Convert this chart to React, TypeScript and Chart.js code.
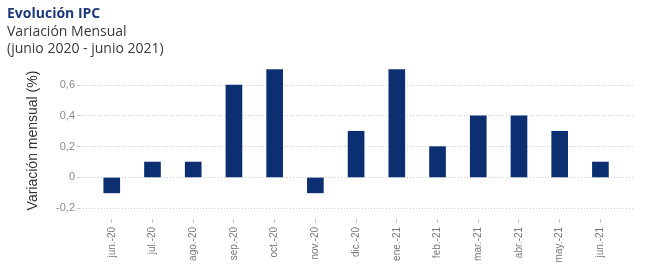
import React, { useEffect, useRef } from "react";
import { Chart, registerables } from "chart.js";

Chart.register(...registerables);

const categories = [
  "jun.-20", "jul.-20", "ago.-20", "sep.-20", "oct.-20", "nov.-20", "dic.-20",
  "ene.-21", "feb.-21", "mar.-21", "abr.-21", "may.-21", "jun.-21",
];
const values = [-0.1, 0.1, 0.1, 0.6, 0.7, -0.1, 0.3, 0.7, 0.2, 0.4, 0.4, 0.3, 0.1];
const yTicks = [-0.2, 0, 0.2, 0.4, 0.6];
const yTickLabels = ["-0,2", "0", "0,2", "0,4", "0,6"];

export default function App() {
  const ref = useRef<HTMLCanvasElement | null>(null);

  useEffect(() => {
    document.body.style.margin = "0";
    const ctx = ref.current!.getContext("2d")!;
    const chart = new Chart(ctx, {
      type: "bar",
      data: {
        datasets: [
          {
            data: values.map((v, i) => ({ x: i, y: v })),
            backgroundColor: "#0b2f70",
            barThickness: 16,
          },
        ],
      },
      options: {
        animation: false,
        responsive: false,
        maintainAspectRatio: false,
        layout: { padding: { top: 62, right: 17, left: 0, bottom: 0 } },
        plugins: { legend: { display: false }, tooltip: { enabled: false } },
        scales: {
          x: {
            type: "linear",
            offset: false,
            min: -0.78,
            max: 12.8,
            afterBuildTicks: (axis: any) => {
              axis.ticks = categories.map((_, i) => ({ value: i }));
            },
            afterFit: (axis: any) => {
              axis.height = 46;
            },
            grid: {
              display: true,
              offset: false,
              drawOnChartArea: false,
              drawTicks: true,
              tickLength: 4,
              color: "#cccccc",
            },
            border: { display: false },
            ticks: {
              autoSkip: false,
              minRotation: 90,
              maxRotation: 90,
              padding: 4,
              color: "#777777",
              font: { family: "'Liberation Sans', Arial", size: 10 },
              callback: (v: any) => categories[Math.round(Number(v))] ?? "",
            },
          },
          y: {
            min: -0.27,
            max: 0.75,
            afterBuildTicks: (axis: any) => {
              axis.ticks = yTicks.map((v) => ({ value: v }));
            },
            afterFit: (axis: any) => {
              axis.width = 80;
            },
            grid: {
              color: "#cfcfcf",
              drawTicks: true,
              tickLength: 3,
              tickColor: "#cccccc",
            },
            border: { display: false, dash: [1, 2] },
            ticks: {
              padding: 2,
              color: "#8a8a8a",
              font: { family: "'Liberation Sans', Arial", size: 11 },
              callback: (v: any) => {
                const idx = yTicks.findIndex((t) => Math.abs(t - Number(v)) < 1e-6);
                return idx >= 0 ? yTickLabels[idx] : "";
              },
            },
            title: {
              display: true,
              text: "Variación mensual (%)",
              color: "#333333",
              padding: { top: 25, bottom: 0 },
              font: { family: "'Liberation Sans', Arial", size: 14 },
            },
          },
        },
      },
    });
    return () => chart.destroy();
  }, []);

  return (
    <div style={{ position: "relative", width: 650, height: 265, background: "#fff" }}>
      <canvas ref={ref} width={650} height={265} style={{ position: "absolute", left: 0, top: 0 }} />
      <div
        style={{
          position: "absolute",
          left: 7,
          top: 4,
          fontFamily: "'Open Sans', 'Noto Sans', sans-serif",
          fontSize: 14,
          lineHeight: "17.5px",
          color: "#3a3a3a",
        }}
      >
        <div style={{ fontWeight: 700, color: "#1f3a78" }}>Evolución IPC</div>
        <div>Variación Mensual</div>
        <div>(junio 2020 - junio 2021)</div>
      </div>
    </div>
  );
}
